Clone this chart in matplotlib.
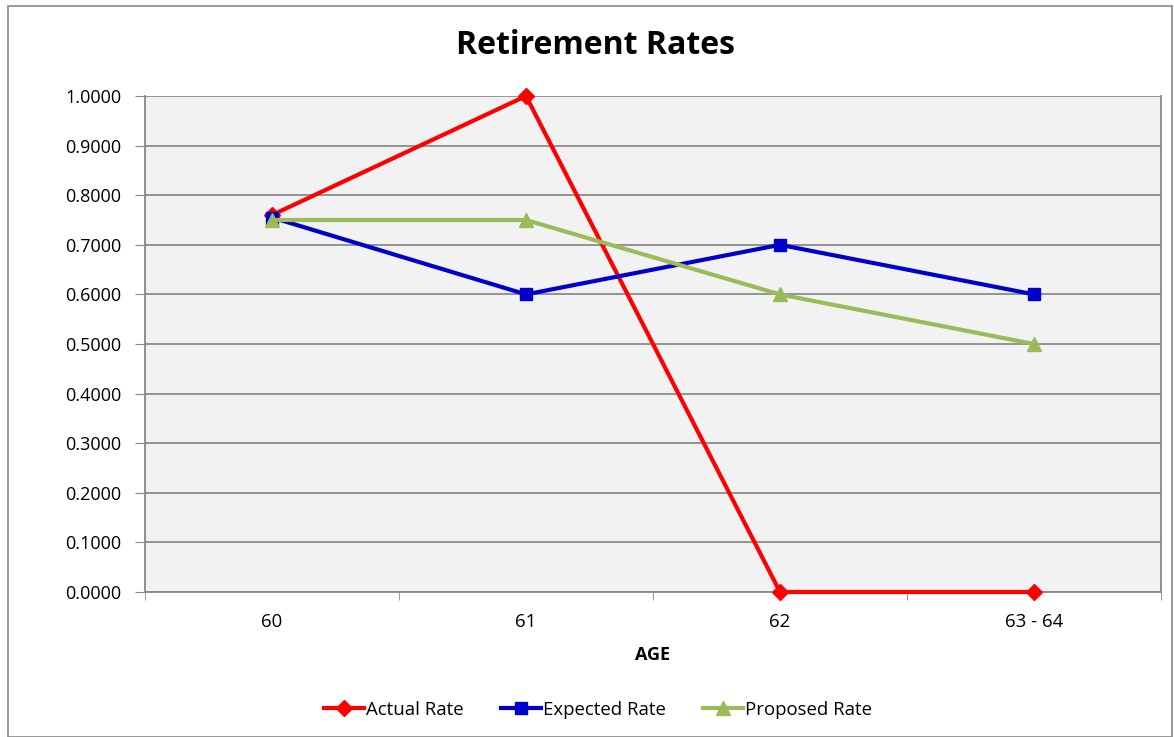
import matplotlib
matplotlib.use("Agg")
import matplotlib.pyplot as plt
from matplotlib.patches import Rectangle
from matplotlib.ticker import FixedLocator, FormatStrFormatter

categories = ["60", "61", "62", "63 - 64"]
actual = [0.76, 1.0, 0.0, 0.0]
expected = [0.755, 0.60, 0.70, 0.60]
proposed = [0.75, 0.75, 0.60, 0.50]
yticks = [0.0, 0.1, 0.2, 0.3, 0.4, 0.5, 0.6, 0.7, 0.8, 0.9, 1.0]

plt.rcParams['font.family'] = ['Open Sans', 'DejaVu Sans']

W, H = 1174, 737
fig = plt.figure(figsize=(W / 100, H / 100), dpi=100)
fig.patch.set_facecolor("white")
fig.add_artist(Rectangle((8 / W, 0), (W - 10) / W, 1 - 6 / H, transform=fig.transFigure,
                         fill=False, edgecolor="#888888", linewidth=1.2))

ax = fig.add_axes([145 / W, 1 - 592 / H, (1161 - 145) / W, (592 - 96) / H])
ax.set_facecolor("#f2f2f2")

x = list(range(len(categories)))
ax.plot(x, actual, color="#ff0000", lw=3, marker="D", ms=8, label="Actual Rate", zorder=3, clip_on=False)
ax.plot(x, expected, color="#0000cc", lw=3, marker="s", ms=9, label="Expected Rate", zorder=3, clip_on=False)
ax.plot(x, proposed, color="#9bbb59", lw=3, marker="^", ms=10, label="Proposed Rate", zorder=3, clip_on=False)

ax.set_xlim(-0.5, len(categories) - 0.5)
ax.set_ylim(0, 1.0)
ax.set_xticks(x)
ax.set_xticklabels(categories, fontsize=13.4)
ax.xaxis.set_minor_locator(FixedLocator([i - 0.5 for i in range(len(categories) + 1)]))
ax.tick_params(axis="x", which="major", length=0, pad=15)
ax.tick_params(axis="x", which="minor", length=6, color="#888888")
ax.set_yticks(yticks)
ax.yaxis.set_major_formatter(FormatStrFormatter("%.4f"))
ax.tick_params(axis="y", length=7, color="#888888", labelsize=13, pad=10)
ax.grid(axis="y", color="#8c8c8c", lw=1.3, zorder=0)
ax.set_axisbelow(True)
for s in ["left", "right", "bottom"]:
    ax.spines[s].set_color("#888888")
    ax.spines[s].set_linewidth(1.3)
ax.spines["top"].set_visible(False)

ax.set_xlabel("AGE", fontsize=13, fontweight="bold", labelpad=11)
fig.text(596 / W, 1 - 45 / H, "Retirement Rates", ha="center", va="center",
         fontsize=23, fontweight="bold")

leg = fig.legend(loc="center", bbox_to_anchor=(598 / W, 1 - 710 / H), ncol=3, frameon=False,
                 fontsize=13.4, handlelength=2.15, handletextpad=0.1, columnspacing=2.0)

fig.savefig("out.png", dpi=100)
